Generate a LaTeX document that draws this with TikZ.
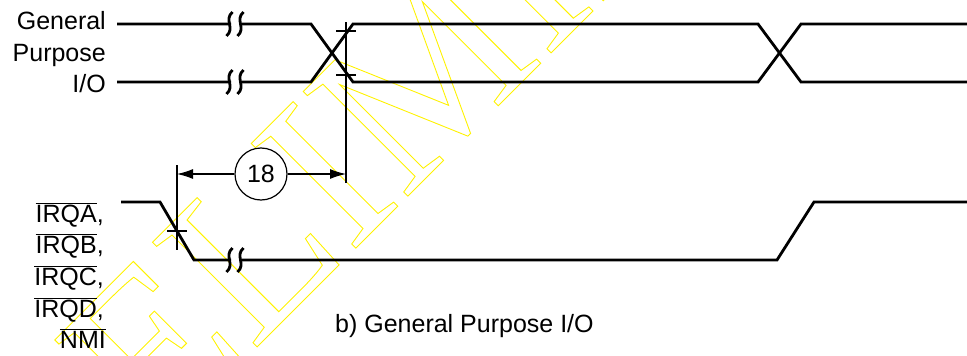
\documentclass[tikz,border=0pt]{standalone}
\usepackage{fontspec}
\setmainfont{Liberation Sans}
\newfontfamily\wmfont{Liberation Serif}
\usetikzlibrary{arrows.meta,positioning}
\newcommand{\ovl}[1]{$\overline{\mbox{#1}}$}
% two wavy strokes that break a signal line
\newcommand{\brk}[2]{(#1-4,#2-12) .. controls (#1-13,#2-4) and (#1-1,#2+4) .. (#1-10,#2+12)
	(#1+7,#2-12) .. controls (#1-2,#2-4) and (#1+10,#2+4) .. (#1+1,#2+12)}

\begin{document}
\begin{tikzpicture}[x=1pt, y=-1pt,
	sig/.style = {line width=2.8pt, line join=miter},
	fine/.style = {line width=1.2pt},
	lbl/.style = {font=\fontsize{25}{30}\selectfont, inner sep=0pt, anchor=base east},
	num/.style = {draw, circle, fine, minimum size=52pt, inner sep=0pt, font=\fontsize{25}{30}\selectfont},
	dim/.style = {fine, -{Latex[length=16pt, width=10pt]}}]
	\useasboundingbox (0,0) rectangle (967,356);

	% watermark
	\begin{scope}[line width=0.9pt]
		\node[rotate=45, anchor=base, text=yellow, inner sep=0pt, font=\wmfont\fontsize{226}{226}\selectfont] (wm) at (501,103)
			{\special{pdf:literal direct 1 Tr}PRELIMINARY\special{pdf:literal direct 0 Tr}};
	\end{scope}

	\node[lbl] (gen) at (106,30) {General};
	\node[lbl] (pur) at (106,61) {Purpose};
	\node[lbl] (io) at (106,92) {I/O};
	\node[lbl] (irqa) at (104,222) {\ovl{IRQA},};
	\node[lbl] (irqb) at (104,253) {\ovl{IRQB},};
	\node[lbl] (irqc) at (104,285) {\ovl{IRQC},};
	\node[lbl] (irqd) at (104,317) {\ovl{IRQD},};
	\node[lbl] (nmi) at (106,348) {\ovl{NMI}};
	\node[lbl, anchor=base west] (cap) at (335,332) {b) General Purpose I/O};

	% general purpose I/O bus
	\draw[sig] (117,24) -- (231,24) \brk{236.5}{24}
		(242,24) -- (311,24) -- (353,82) -- (758,82) -- (801,24) -- (967,24);
	\draw[sig] (117,82) -- (231,82) \brk{236.5}{82}
		(242,82) -- (311,82) -- (353,24) -- (758,24) -- (801,82) -- (967,82);

	% interrupt lines
	\draw[sig] (121,202) -- (160,202) -- (194,260) -- (231,260) \brk{236.5}{260}
		(242,260) -- (777,260) -- (814,202) -- (967,202);

	% timing reference
	\coordinate (gtop) at (346,22);
	\coordinate (gbot) at (346,183);
	\coordinate (itop) at (177,165);
	\coordinate (ibot) at (177,250);
	\draw[fine] (gtop) -- (gbot);
	\draw[fine] (336,31) -- (356,31);
	\draw[fine] (336,75) -- (356,75);
	\draw[fine] (itop) -- (ibot);
	\draw[fine] (167,231) -- (187,231);

	\node[num] (n18) at (261,174) {18};
	\coordinate (la) at (177,174);
	\coordinate (ra) at (346,174);
	\draw[dim] (n18) -- (la);
	\draw[dim] (n18) -- (ra);
\end{tikzpicture}
\end{document}
